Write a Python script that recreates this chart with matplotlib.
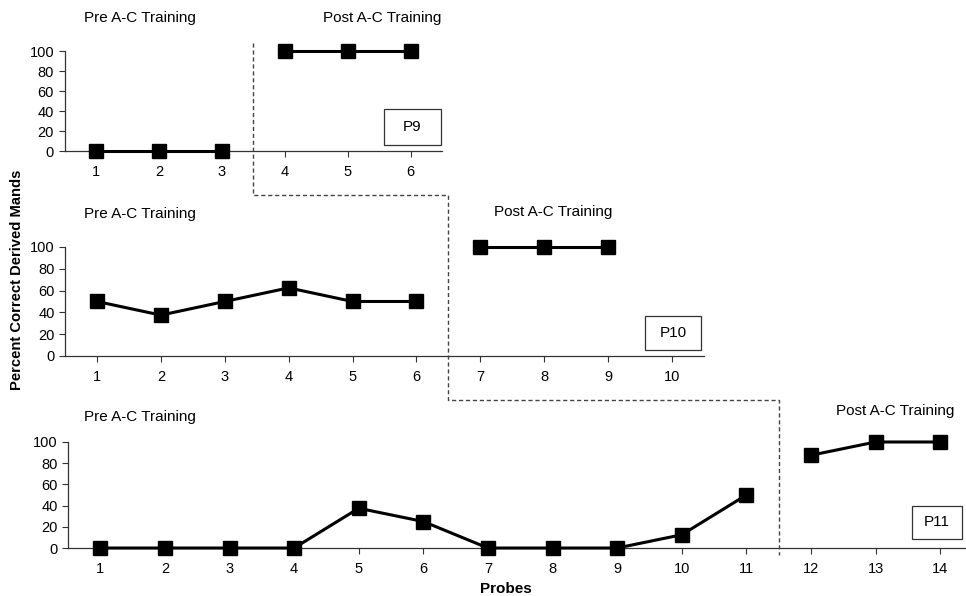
import numpy as np
import matplotlib.pyplot as plt
from matplotlib.patches import Rectangle

plt.rcParams['font.family'] = ['Liberation Sans', 'DejaVu Sans']

# data for the three participants
p9_pre_x = [1, 2, 3]
p9_pre_y = [0, 0, 0]
p9_post_x = [4, 5, 6]
p9_post_y = [100, 100, 100]

p10_pre_x = [1, 2, 3, 4, 5, 6]
p10_pre_y = [50, 37.5, 50, 62.5, 50, 50]
p10_post_x = [7, 8, 9]
p10_post_y = [100, 100, 100]

p11_pre_x = [1, 2, 3, 4, 5, 6, 7, 8, 9, 10, 11]
p11_pre_y = [0, 0, 0, 0, 37.5, 25, 0, 0, 0, 12.5, 50]
p11_post_x = [12, 13, 14]
p11_post_y = [87.5, 100, 100]

yticks = [0, 20, 40, 60, 80, 100]

fig = plt.figure(figsize=(9.66, 5.96), dpi=100)

# axes rects (fig fraction)
ax1 = fig.add_axes([0.0668, 0.7466, 0.391, 0.1678])
ax2 = fig.add_axes([0.0673, 0.4027, 0.6615, 0.1829])
ax3 = fig.add_axes([0.0704, 0.0805, 0.9296, 0.1779])

panels = [
    (ax1, p9_pre_x, p9_pre_y, p9_post_x, p9_post_y, 6.5),
    (ax2, p10_pre_x, p10_pre_y, p10_post_x, p10_post_y, 10.5),
    (ax3, p11_pre_x, p11_pre_y, p11_post_x, p11_post_y, 14.4),
]

for ax, px, py, qx, qy, xmax in panels:
    for xs, ys in [(px, py), (qx, qy)]:
        ax.plot(xs, ys, color='black', lw=2.2, marker='s', ms=9.5,
                markerfacecolor='black', markeredgecolor='black', clip_on=False, zorder=5)
    ax.set_xlim(0.5, xmax)
    ax.set_ylim(0, 100)
    ax.set_yticks(yticks)
    n = int(np.floor(xmax))
    ax.set_xticks(range(1, n + 1))
    for s in ['top', 'right']:
        ax.spines[s].set_visible(False)
    for s in ['left', 'bottom']:
        ax.spines[s].set_color('#333333')
        ax.spines[s].set_linewidth(0.9)
    ax.tick_params(axis='both', labelsize=10.5, colors='#333333', labelcolor='black',
                   length=4, width=0.8)
    ax.tick_params(axis='x', pad=6)
    ax.patch.set_visible(False)

# participant label boxes, pixel extents (x0, x1, y0, y1)
boxes = [
    (384, 441, 109, 145, 'P9'),
    (645, 701, 316, 350, 'P10'),
    (912, 962, 506, 539, 'P11'),
]
for x0, x1, y0, y1, t in boxes:
    fig.add_artist(Rectangle((x0 / 966, 1 - y1 / 596), (x1 - x0) / 966, (y1 - y0) / 596,
                             transform=fig.transFigure, fc='white', ec='#333333', lw=0.9))
    fig.text((x0 + x1) / 2 / 966, 1 - (y0 + y1) / 2 / 596, t, ha='center', va='center',
             fontsize=11)

# phase labels
phase = [
    (140, 18, 'Pre A-C Training'),
    (382, 18, 'Post A-C Training'),
    (140, 214, 'Pre A-C Training'),
    (553, 212, 'Post A-C Training'),
    (140, 417, 'Pre A-C Training'),
    (895, 411, 'Post A-C Training'),
]
for x, y, t in phase:
    fig.text(x / 966, 1 - y / 596, t, ha='center', va='center', fontsize=11)

# phase change line running through all panels
def fx(ax, x):
    return fig.transFigure.inverted().transform(ax.transData.transform((x, 0)))[0]

xa = fx(ax1, 3.5)
xb = fx(ax2, 6.5)
xc = fx(ax3, 11.5)
ya = 1 - 43 / 596
yb = 1 - 195 / 596
yc = 1 - 400 / 596
yd = 1 - 555 / 596
fig.add_artist(plt.Line2D([xa, xa, xb, xb, xc, xc], [ya, yb, yb, yc, yc, yd],
                          transform=fig.transFigure, color='#444444', lw=1.0,
                          linestyle=(0, (3, 2))))

fig.text(17 / 966, 1 - 280 / 596, 'Percent Correct Derived Mands', rotation=90,
         ha='center', va='center', fontsize=10.6, fontweight='bold')
fig.text(506 / 966, 1 - 589 / 596, 'Probes', ha='center', va='center',
         fontsize=11, fontweight='bold')

fig.savefig('out.png', dpi=100)
